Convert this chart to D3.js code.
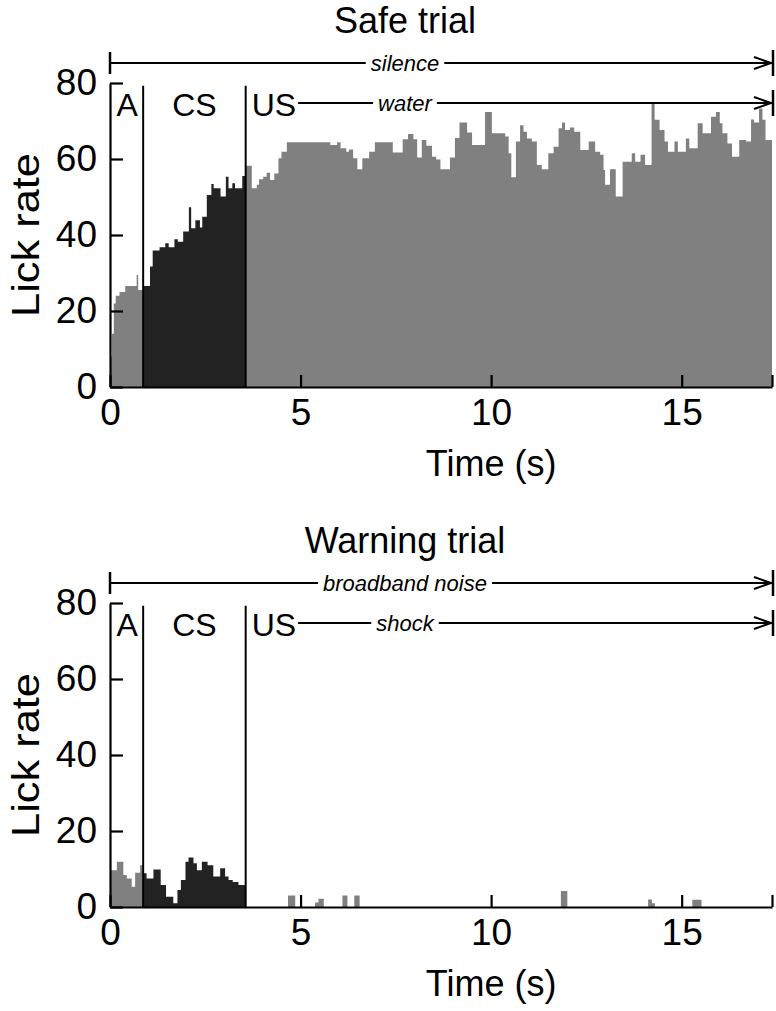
<!DOCTYPE html>
<html><head><meta charset="utf-8">
<script src="https://cdn.jsdelivr.net/npm/d3@7"></script>
<style>
body{margin:0;background:#fff}
svg{display:block}
text{font-family:"Liberation Sans",Arial,Helvetica,sans-serif;fill:#000}
</style>
</head><body>
<svg id="chart" width="776" height="1011"></svg>
<script>
// ---- data ----
const panelTitles = ["Safe trial", "Warning trial"];
const contextLabels = ["silence", "broadband noise"];
const usLabels = ["water", "shock"];
const phaseNames = ["A", "CS", "US"];
const phaseBounds = [0, 0.87, 3.56, 17.37];
const phaseFills = ["#808080", "#222222", "#808080"];
const xTicks = [0, 5, 10, 15];
const yTicks = [0, 20, 40, 60, 80];
const xLabel = "Time (s)";
const yLabel = "Lick rate";

const safeTimes = [0, 0.05, 0.1, 0.15, 0.25, 0.4, 0.70, 0.74, 0.87, 1.05, 1.12, 1.30, 1.45, 1.54, 1.69, 1.78, 1.92, 2.07, 2.13, 2.24, 2.36, 2.42, 2.54, 2.66, 2.72, 2.90, 3.04, 3.11, 3.21, 3.28, 3.47,
  3.56, 3.72, 3.85, 3.91, 4.02, 4.11, 4.20, 4.31, 4.42, 4.50, 4.64, 5.78, 5.96, 6.05, 6.20, 6.27, 6.38, 6.49, 6.62, 6.80, 6.95,
  7.42, 7.68, 7.82, 7.96, 8.06, 8.18, 8.30, 8.45, 8.56, 8.67, 8.92, 9.05, 9.17, 9.37, 9.50, 9.84, 10.02, 10.37, 10.46, 10.53, 10.65, 10.76, 10.85, 10.94, 11.07, 11.20, 11.33, 11.50, 11.64, 11.77, 11.86, 11.94, 12.07, 12.18, 12.34, 12.56, 12.73, 12.86, 12.95, 12.99, 13.12, 13.27, 13.45, 13.69, 13.78, 13.92, 14.04, 14.21, 14.29, 14.42, 14.55, 14.64, 14.81, 14.90, 15.11, 15.20, 15.42, 15.55, 15.77, 15.90, 16.00, 16.07, 16.20, 16.32, 16.51, 16.69, 16.82, 16.90, 17.03, 17.12, 17.20];
const safeRates = [8, 14, 22, 24, 25, 26.6, 29.5, 25.5, 26.6, 31.7, 35.9, 36.8, 37.8, 36.8, 38.9, 38.2, 40.9, 47.3, 41.8, 43.9, 42.0, 44.8, 50.5, 53.4, 52.3, 50.1, 55.3, 52.3, 53.6, 52.3, 55.5,
  58.2, 52.3, 53.2, 54.7, 55.3, 56.4, 54.5, 56.2, 60.2, 61.9, 64.4, 63.7, 64.4, 62.8, 61.9, 62.5, 60.2, 57.3, 60.2, 61.9, 64.4,
  61.7, 65.2, 66.6, 65.2, 60.4, 65.0, 63.5, 60.6, 59.9, 57.3, 60.4, 65.5, 69.6, 67.0, 63.7, 72.4, 66.8, 65.9, 61.5, 55.2, 64.6, 68.9, 67.2, 65.4, 64.6, 58.4, 57.3, 61.5, 63.2, 68.1, 69.6, 67.6, 68.3, 67.2, 62.4, 64.6, 61.9, 61.1, 57.1, 53.2, 57.3, 50.1, 59.3, 61.5, 59.3, 61.1, 58.4, 74.7, 70.3, 67.6, 64.6, 61.9, 64.6, 61.9, 65.4, 62.8, 69.4, 66.8, 71.1, 72.4, 69.4, 66.8, 64.1, 60.6, 65.0, 64.6, 70.4, 69.6, 73.3, 70.3, 65.0];

const warnTimes = [0, 0.18, 0.35, 0.44, 0.57, 0.66, 0.79, 0.87, 0.96, 1.14, 1.33, 1.47, 1.66, 1.77, 1.86, 1.98, 2.06, 2.19, 2.28, 2.41, 2.56, 2.71, 2.89, 3.02, 3.11, 3.22, 3.37,
  3.56, 4.67, 4.86, 5.38, 5.47, 5.61, 6.10, 6.23, 6.41, 6.55, 11.83, 12.00, 14.12, 14.22, 14.30, 15.28, 15.52];
const warnRates = [9.7, 11.9, 8.4, 7.5, 5.3, 9.0, 11.0, 8.9, 7.5, 9.9, 5.8, 2.7, 1.0, 4.5, 7.1, 11.9, 13.0, 11.5, 9.7, 11.9, 11.0, 8.0, 10.2, 8.0, 7.1, 6.6, 5.8,
  0, 3.0, 0, 1.2, 2.2, 0, 3.0, 0, 3.0, 0, 4.2, 0, 2.0, 1.0, 0, 1.9, 0];

const panels = [
  {times: safeTimes, rates: safeRates, title: panelTitles[0], ctx: contextLabels[0], us: usLabels[0], dy: 0},
  {times: warnTimes, rates: warnRates, title: panelTitles[1], ctx: contextLabels[1], us: usLabels[1], dy: 520}
];

// ---- layout ----
const svg = d3.select("#chart");
const tEnd = phaseBounds[phaseBounds.length - 1];
const x = d3.scaleLinear().domain([0, tEnd]).range([110, 772]);
const y = d3.scaleLinear().domain([0, 80]).range([387, 83]);
const big = 36;

function segment(times, rates, t0, t1) {
  let cur = 0;
  for (let i = 0; i < times.length; i++) if (times[i] <= t0) cur = rates[i];
  const pts = [[t0, cur]];
  for (let i = 0; i < times.length; i++) if (times[i] > t0 && times[i] < t1) pts.push([times[i], rates[i]]);
  pts.push([t1, pts[pts.length - 1][1]]);
  return pts;
}

const area = d3.area().curve(d3.curveStepAfter)
  .x(d => x(d[0])).y0(y(0)).y1(d => y(d[1]));

function arrowRow(g, xStart, xEnd, yv, label, leftBar) {
  const t = g.append("text").attr("x", (x(0) + xEnd) / 2 - 36).attr("y", yv).attr("dy", "0.35em")
    .attr("text-anchor", "middle").attr("font-style", "italic").attr("font-size", 22).text(label);
  const w = t.node().getComputedTextLength();
  const cx = +t.attr("x");
  const line = d3.line();
  g.append("path").attr("d", line([[xStart, yv], [cx - w / 2 - 5, yv]]))
    .attr("stroke", "#000").attr("stroke-width", 2).attr("fill", "none");
  g.append("path").attr("d", line([[cx + w / 2 + 5, yv], [xEnd, yv]]))
    .attr("stroke", "#000").attr("stroke-width", 2).attr("fill", "none");
  g.append("path").attr("d", line([[xEnd - 18, yv - 6], [xEnd - 1, yv], [xEnd - 18, yv + 6]]))
    .attr("stroke", "#000").attr("stroke-width", 2).attr("fill", "none");
  g.append("line").attr("x1", xEnd + 1).attr("x2", xEnd + 1).attr("y1", yv - 13).attr("y2", yv + 13)
    .attr("stroke", "#000").attr("stroke-width", 2.5);
  if (leftBar) g.append("line").attr("x1", xStart).attr("x2", xStart).attr("y1", yv - 11).attr("y2", yv + 11)
    .attr("stroke", "#000").attr("stroke-width", 2.5);
}

panels.forEach(p => {
  const g = svg.append("g").attr("transform", `translate(0,${p.dy})`);

  // fills per phase
  for (let k = 0; k < phaseNames.length; k++) {
    g.append("path")
      .attr("d", area(segment(p.times, p.rates, phaseBounds[k], phaseBounds[k + 1])))
      .attr("fill", phaseFills[k]).attr("stroke", "none");
  }

  // phase boundary lines
  phaseBounds.slice(1, -1).forEach(b => {
    g.append("line").attr("x1", x(b)).attr("x2", x(b)).attr("y1", y(0)).attr("y2", y(79.3))
      .attr("stroke", "#000").attr("stroke-width", 2);
  });

  // axes
  const ya = g.append("g").attr("transform", `translate(${x(0)},0)`)
    .call(d3.axisLeft(y).tickValues(yTicks).tickSizeInner(-13).tickSizeOuter(0).tickPadding(13));
  const xa = g.append("g").attr("transform", `translate(0,${y(0)})`)
    .call(d3.axisBottom(x).tickValues(xTicks.concat([tEnd])).tickFormat(d => d > 16 ? "" : d)
      .tickSizeInner(-12).tickSizeOuter(0).tickPadding(12));
  [ya, xa].forEach(a => {
    a.selectAll("path.domain").attr("stroke", "#000").attr("stroke-width", 2.2);
    a.selectAll(".tick line").attr("stroke", "#000").attr("stroke-width", 2.2);
    a.selectAll(".tick text").attr("font-size", 37).attr("fill", "#000")
      .attr("font-family", '"Liberation Sans",Arial,sans-serif');
  });

  // titles and labels
  g.append("text").attr("x", 405).attr("y", 33).attr("text-anchor", "middle").attr("font-size", big).text(p.title);
  g.append("text").attr("x", x(10)).attr("y", 476).attr("text-anchor", "middle").attr("font-size", big).text(xLabel);
  g.append("text").attr("transform", `translate(39,${(y(0) + y(80)) / 2}) rotate(-90)`)
    .attr("text-anchor", "middle").attr("font-size", 39)
    .attr("textLength", 164).attr("lengthAdjust", "spacingAndGlyphs").text(yLabel);

  // phase labels
  const mids = [(x(phaseBounds[0]) + x(phaseBounds[1])) / 2 + 0.5, (x(phaseBounds[1]) + x(phaseBounds[2])) / 2];
  g.append("text").attr("x", mids[0]).attr("y", 116).attr("text-anchor", "middle").attr("font-size", 32).text(phaseNames[0]);
  g.append("text").attr("x", mids[1]).attr("y", 116).attr("text-anchor", "middle").attr("font-size", 32).text(phaseNames[1]);
  const us = g.append("text").attr("x", x(phaseBounds[2]) + 6).attr("y", 116).attr("font-size", 32).text(phaseNames[2]);
  const usEnd = x(phaseBounds[2]) + 6 + us.node().getComputedTextLength();

  // context & US arrows
  arrowRow(g, x(0), x(tEnd), 63, p.ctx, true);
  arrowRow(g, usEnd + 2, x(tEnd), 103, p.us, false);
});
</script>
</body></html>
